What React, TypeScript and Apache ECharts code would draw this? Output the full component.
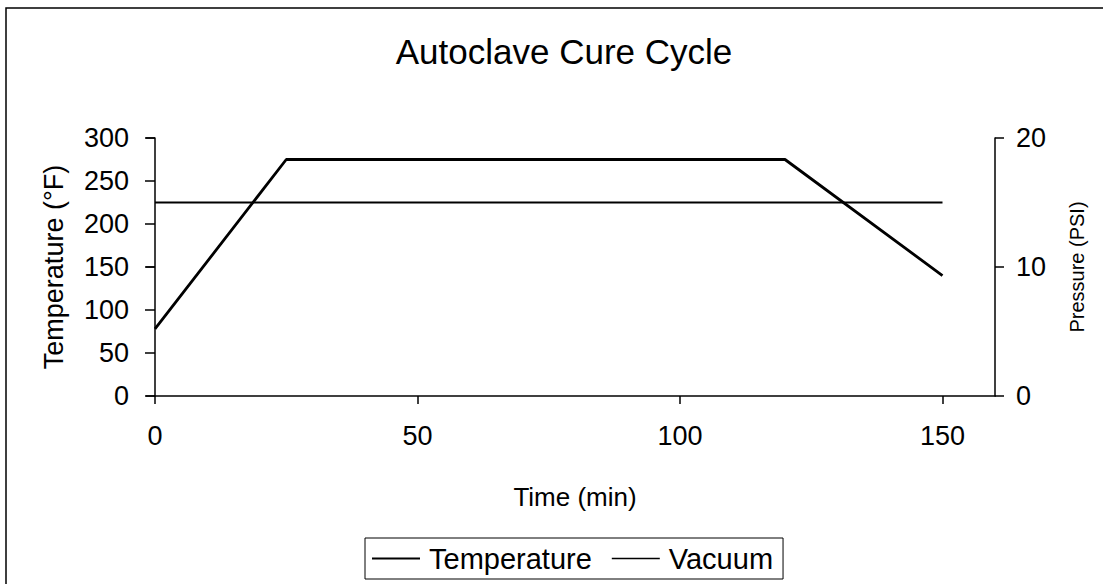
import React, { useEffect, useRef } from "react";
import * as echarts from "echarts";

const timeMin = [0, 25, 120, 150];
const temperatureF = [78, 275, 275, 140];
const vacuumTime = [0, 150];
const vacuumPsi = [15, 15];
const xTicks = [0, 50, 100, 150];
const FONT = "'Liberation Sans', Arial, sans-serif";

export default function App() {
  const ref = useRef<HTMLDivElement>(null);
  useEffect(() => {
    if (!ref.current) return;
    const chart = echarts.init(ref.current, undefined, { renderer: "svg" });
    const tempData = timeMin.map((t, i) => [t, temperatureF[i]]);
    const vacData = vacuumTime.map((t, i) => [t, vacuumPsi[i]]);
    chart.setOption({
      animation: false,
      backgroundColor: "#fff",
      textStyle: { fontFamily: FONT, color: "#000" },
      title: {
        text: "Autoclave Cure Cycle",
        left: 559,
        top: 29,
        textAlign: "center",
        textStyle: { fontFamily: FONT, fontSize: 35, fontWeight: "normal", color: "#000" },
      },
      graphic: [
        {
          type: "rect",
          shape: { x: 6, y: 8, width: 1200, height: 700 },
          style: { fill: "none", stroke: "#000", lineWidth: 1.5 },
          silent: true,
        },
      ],
      legend: {
        bottom: 5,
        left: 365,
        orient: "horizontal",
        borderColor: "#000",
        borderWidth: 1,
        padding: [6, 10, 6, 7],
        itemWidth: 48,
        itemHeight: 14,
        itemGap: 20,
        textStyle: { fontFamily: FONT, fontSize: 29, color: "#000", padding: [0, 0, 0, 4] },
        data: [
          { name: "Temperature", icon: "path://M0,7 L48,7 L48,9 L0,9 Z", itemStyle: { color: "#000" } },
          { name: "Vacuum", icon: "path://M0,7 L48,7 L48,8.6 L0,8.6 Z", itemStyle: { color: "#000" } },
        ],
      },
      grid: { left: 155, right: 108, top: 138, bottom: 188, containLabel: false },
      xAxis: {
        type: "value",
        min: 0,
        max: 160,
        interval: 50,
        name: "Time (min)",
        nameLocation: "middle",
        nameGap: 88,
        nameTextStyle: { fontFamily: FONT, fontSize: 26, color: "#000" },
        axisLine: { show: true, onZero: false, lineStyle: { color: "#000", width: 1.5 } },
        axisTick: { show: true, length: 8, lineStyle: { color: "#000", width: 1.5 } },
        axisLabel: {
          showMaxLabel: false,
          fontFamily: FONT,
          fontSize: 27,
          color: "#000",
          margin: 26,
          formatter: (v: number) => (xTicks.includes(v) ? String(v) : ""),
        },
        splitLine: { show: false },
      },
      yAxis: [
        {
          type: "value",
          min: 0,
          max: 300,
          interval: 50,
          position: "left",
          name: "Temperature (°F)",
          nameLocation: "middle",
          nameGap: 88,
          nameRotate: 90,
          nameTextStyle: { fontFamily: FONT, fontSize: 27, color: "#000" },
          axisLine: { show: true, onZero: false, lineStyle: { color: "#000", width: 1.5 } },
          axisTick: { show: true, length: 10, lineStyle: { color: "#000", width: 1.5 } },
          axisLabel: { fontFamily: FONT, fontSize: 27, color: "#000", margin: 26 },
          splitLine: { show: false },
        },
        {
          type: "value",
          min: 0,
          max: 20,
          interval: 10,
          position: "right",
          name: "Pressure (PSI)",
          nameLocation: "middle",
          nameGap: 72,
          nameRotate: 90,
          nameTextStyle: { fontFamily: FONT, fontSize: 20, color: "#000" },
          axisLine: { show: true, onZero: false, lineStyle: { color: "#000", width: 1.5 } },
          axisTick: { show: true, length: 9, lineStyle: { color: "#000", width: 1.5 } },
          axisLabel: { fontFamily: FONT, fontSize: 27, color: "#000", margin: 21 },
          splitLine: { show: false },
        },
        {
          type: "value",
          min: 0,
          max: 20,
          interval: 10,
          position: "right",
          axisLine: { show: false },
          axisTick: { show: true, inside: true, length: 9, lineStyle: { color: "#000", width: 1.5 } },
          axisLabel: { show: false },
          splitLine: { show: false },
        },
      ],
      series: [
        {
          name: "Temperature",
          type: "line",
          yAxisIndex: 0,
          data: tempData,
          symbol: "none",
          lineStyle: { color: "#000", width: 2.8 },
          itemStyle: { color: "#000" },
        },
        {
          name: "Vacuum",
          type: "line",
          yAxisIndex: 1,
          data: vacData,
          symbol: "none",
          lineStyle: { color: "#000", width: 2 },
          itemStyle: { color: "#000" },
        },
      ],
    });
    return () => chart.dispose();
  }, []);
  return <div ref={ref} style={{ width: 1103, height: 584, position: "absolute", left: 0, top: 0 }} />;
}
